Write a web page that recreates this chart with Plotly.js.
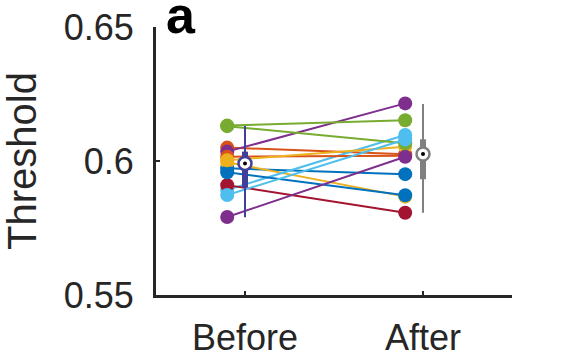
<!DOCTYPE html>
<html>
<head>
<meta charset="utf-8">
<script src="https://cdn.plot.ly/plotly-3.0.1.min.js"></script>
<style>
  html, body { margin: 0; padding: 0; background: #fff; }
  #myDiv { width: 563px; height: 359px; }
</style>
</head>
<body>
<div id="myDiv"></div>
<script>
// thresholds per subject
const before = [0.5973, 0.6050, 0.5995, 0.6035, 0.6132, 0.5892, 0.5910,
                0.5958, 0.6016, 0.6003, 0.5791, 0.6130, 0.5873];
const after  = [0.5951, 0.6025, 0.5867, 0.6215, 0.6152, 0.6097, 0.5807,
                0.5872, 0.6020, 0.6053, 0.6016, 0.6066, 0.6080];
const subjColors = ['#0072BD', '#D95319', '#EDB120', '#7E2F8E', '#77AC30', '#4DBEEE', '#A2142F'];

const groups = ['Before', 'After'];
const groupX = [1, 2];
const pointX = [0.9, 1.9];

// compact box plot stats: [low whisker, q1, median, q3, high whisker]
const boxBefore = [0.5790, 0.5902, 0.5991, 0.6035, 0.6131];
const boxAfter  = [0.5807, 0.5932, 0.6026, 0.6081, 0.6213];
const boxColors = ['#40409c', '#808080'];

function loadPage() {
    var data = [];

    for (let i = 0; i < before.length; i++) {
        let col = subjColors[i % subjColors.length];
        data.push({
            x: pointX,
            y: [before[i], after[i]],
            mode: 'lines+markers',
            type: 'scatter',
            line: {color: col, width: 2},
            marker: {color: col, size: 14},
            hoverinfo: 'skip'
        });
    }

    var boxes = [boxBefore, boxAfter];
    for (let g = 0; g < 2; g++) {
        let b = boxes[g];
        let xx = groupX[g];
        // whisker
        data.push({
            x: [xx, xx], y: [b[0], b[4]],
            mode: 'lines', type: 'scatter',
            line: {color: boxColors[g], width: 2}
        });
        // box
        data.push({
            x: [xx, xx], y: [b[1], b[3]],
            mode: 'lines', type: 'scatter',
            line: {color: boxColors[g], width: 6}
        });
        // median
        data.push({
            x: [xx], y: [b[2]],
            mode: 'markers', type: 'scatter',
            marker: {color: '#ffffff', size: 13, line: {color: boxColors[g], width: 2.5}}
        });
        data.push({
            x: [xx], y: [b[2]],
            mode: 'markers', type: 'scatter',
            marker: {color: '#000000', size: 4}
        });
    }

    var axisFont = {family: 'Liberation Sans, Arial, sans-serif', size: 36, color: '#262626'};

    var layout = {
        width: 563,
        height: 359,
        showlegend: false,
        paper_bgcolor: '#ffffff',
        plot_bgcolor: '#ffffff',
        margin: {l: 156, r: 51, t: 27, b: 64},
        font: axisFont,
        xaxis: {
            range: [0.5, 2.5],
            tickvals: groupX,
            ticktext: groups,
            ticks: 'inside',
            ticklen: 4,
            tickwidth: 2,
            tickcolor: '#262626',
            showline: true,
            linewidth: 3,
            linecolor: '#262626',
            showgrid: false,
            zeroline: false,
            tickfont: axisFont,
            ticklabelstandoff: 9
        },
        yaxis: {
            range: [0.55, 0.65],
            tickvals: [0.55, 0.6, 0.65],
            ticktext: ['0.55', '0.6', '0.65'],
            ticks: 'inside',
            ticklen: 4,
            tickwidth: 2,
            tickcolor: '#262626',
            showline: true,
            linewidth: 3,
            linecolor: '#262626',
            showgrid: false,
            zeroline: false,
            tickfont: axisFont,
            ticklabelstandoff: 12,
            title: {text: 'Threshold', font: {family: 'Liberation Sans, Arial, sans-serif', size: 40, color: '#262626'}, standoff: 20}
        },
        annotations: [{
            text: '<b>a</b>',
            xref: 'paper', yref: 'paper',
            x: 0.022, y: 0.93,
            xanchor: 'left', yanchor: 'bottom',
            showarrow: false,
            font: {family: 'Liberation Sans, Arial, sans-serif', size: 52, color: '#000000'}
        }]
    };

    Plotly.newPlot('myDiv', data, layout, {staticPlot: true});
}
loadPage();
</script>
</body>
</html>
